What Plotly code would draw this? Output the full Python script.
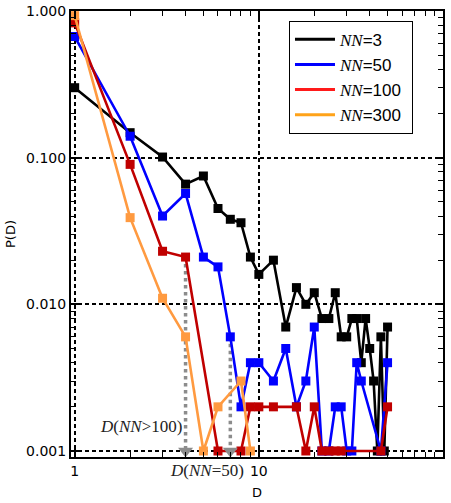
import plotly.graph_objects as go

# ---------------- data ----------------
nn3_D = [1, 2, 3, 4, 5, 6, 7, 8, 9, 10, 12, 14, 16, 18, 20, 22, 24, 26, 28, 30,
         32, 34, 36, 38, 40, 42, 44, 46, 48, 50]
nn3_P = [0.30, 0.148, 0.101, 0.066, 0.075, 0.045, 0.038, 0.036, 0.021, 0.016,
         0.020, 0.007, 0.013, 0.010, 0.012, 0.008, 0.008, 0.012, 0.006, 0.006,
         0.008, 0.008, 0.004, 0.008, 0.005, 0.003, 0.001, 0.006, 0.001, 0.007]

nn50_D = [1, 2, 3, 4, 5, 6, 7, 8, 9, 10, 12, 14, 16, 18, 20, 22, 24, 26, 28, 30,
          32, 34, 36, 46, 50]
nn50_P = [0.67, 0.14, 0.040, 0.057, 0.021, 0.018, 0.006, 0.002, 0.004, 0.004,
          0.003, 0.005, 0.002, 0.003, 0.007, 0.001, 0.001, 0.002, 0.002, 0.001,
          0.001, 0.004, 0.003, 0.001, 0.004]

nn100_D = [1, 2, 3, 4, 6, 8, 9, 10, 12, 16, 18, 20, 22, 24, 26, 28, 46, 50]
nn100_P = [0.83, 0.090, 0.023, 0.021, 0.001, 0.001, 0.002, 0.002, 0.002, 0.002,
           0.001, 0.002, 0.001, 0.001, 0.001, 0.001, 0.001, 0.002]

nn300_D = [1, 2, 3, 4, 5, 6, 8, 9]
nn300_P = [0.93, 0.039, 0.011, 0.006, 0.001, 0.002, 0.003, 0.001]

series_names = ["3", "50", "100", "300"]

# characteristic-distance arrows: D value, starting P, end P
arrow_D = [4, 7]
arrow_from = [0.021, 0.006]
arrow_to = [0.001, 0.001]
arrow_labels = ["<i>D</i>(<i>NN</i>>100)", "<i>D</i>(<i>NN</i>=50)"]

x_tickvals = [1, 10, 100]
x_ticktext = ["1", "10", "100"]
y_tickvals = [0.001, 0.01, 0.1, 1]
y_ticktext = ["0.001", "0.010", "0.100", "1.000"]

# ---------------- style ----------------
data_colors = ["#000000", "#0000ff", "#c00000", "#ff9a40"]
legend_colors = ["#000000", "#0000ff", "#ff1a1a", "#ffa31a"]
gray = "#8c8c8c"

fig = go.Figure()

# dotted gray arrow shafts (below data)
for d, y0, y1 in zip(arrow_D, arrow_from, arrow_to):
    fig.add_trace(go.Scatter(x=[d, d], y=[y0, y1], mode="lines",
                             line=dict(color=gray, width=3.5, dash="dot"),
                             showlegend=False, hoverinfo="skip", cliponaxis=False))

all_D = [nn3_D, nn50_D, nn100_D, nn300_D]
all_P = [nn3_P, nn50_P, nn100_P, nn300_P]
for D, P, c in zip(all_D, all_P, data_colors):
    fig.add_trace(go.Scatter(x=D, y=P, mode="lines+markers",
                             line=dict(color=c, width=2.6),
                             marker=dict(symbol="square", size=9, color=c),
                             showlegend=False, cliponaxis=False))

# arrow heads
fig.add_trace(go.Scatter(x=arrow_D, y=arrow_to, mode="markers",
                         marker=dict(symbol="triangle-down", size=13, color=gray),
                         showlegend=False, hoverinfo="skip", cliponaxis=False))

# legend entries
serif = "Liberation Serif"
for name, c in zip(series_names, legend_colors):
    fig.add_trace(go.Scatter(
        x=[None], y=[None], mode="lines", line=dict(color=c, width=3),
        name=f"<span style='font-family:{serif}'><i>NN</i></span>={name}&nbsp;"))

# annotations
fig.add_annotation(x=0.602, y=-3, xref="x", yref="y", text=arrow_labels[0],
                   showarrow=False, xanchor="right", yanchor="middle",
                   xshift=-2, yshift=24,
                   font=dict(family=serif, size=17, color="#222222"))
fig.add_annotation(x=0.845, y=-3, xref="x", yref="y", text=arrow_labels[1],
                   showarrow=False, xanchor="center", yanchor="middle",
                   xshift=-23, yshift=-20,
                   font=dict(family=serif, size=17, color="#222222"))

axis_common = dict(
    type="log", showline=True, linecolor="black", linewidth=2, mirror="allticks",
    ticks="inside", ticklen=8, tickwidth=1.5, tickcolor="black",
    showgrid=True, gridcolor="black", gridwidth=1.5, griddash="4px,3px",
    zeroline=False, automargin=False,
    tickfont=dict(family="DejaVu Sans", size=14, color="black"),
)

fig.update_xaxes(
    **axis_common, range=[-0.02, 2.0], tickmode="array",
    tickvals=x_tickvals, ticktext=x_ticktext,
    minor=dict(tickmode="array",
               tickvals=[k * 10 ** e for e in (0, 1) for k in range(2, 10)],
               ticks="inside", ticklen=5, tickwidth=1.2, tickcolor="black",
               showgrid=False),
    title=dict(text="D", font=dict(family="DejaVu Sans", size=13, color="black"),
               standoff=10),
)
fig.update_yaxes(
    **axis_common, range=[-3.041, 0], tickmode="array",
    tickvals=y_tickvals, ticktext=y_ticktext,
    minor=dict(tickmode="array",
               tickvals=[k * 10 ** e for e in (-3, -2, -1) for k in range(2, 10)],
               ticks="inside", ticklen=5, tickwidth=1.2, tickcolor="black",
               showgrid=False),
    title=dict(text="P(D)", font=dict(family="DejaVu Sans", size=13, color="black"),
               standoff=8),
)

fig.update_layout(
    width=451, height=503,
    margin=dict(l=71, r=8, t=11, b=46, autoexpand=False),
    paper_bgcolor="white", plot_bgcolor="white",
    legend=dict(x=0.586, y=0.978, xanchor="left", yanchor="top",
                bgcolor="white", bordercolor="black", borderwidth=1,
                font=dict(family="Liberation Sans", size=17, color="black"),
                itemwidth=40, tracegroupgap=0),
)

fig.write_html("out.html")
